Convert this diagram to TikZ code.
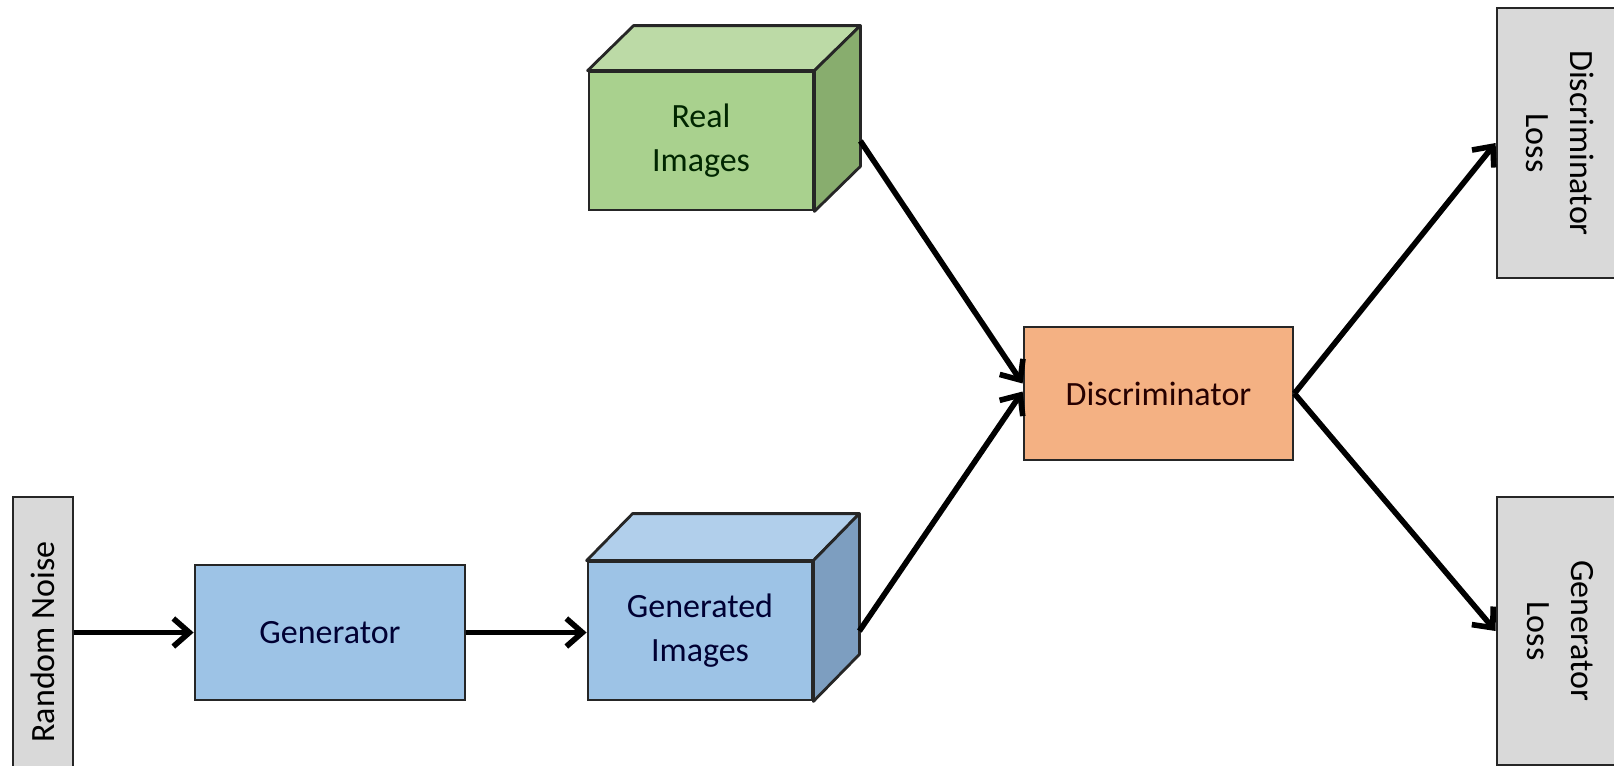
\documentclass[tikz,border=0pt]{standalone}
\usepackage{fontspec}
\setmainfont{Carlito}
\usetikzlibrary{arrows.meta,calc}

\definecolor{realfront}{HTML}{A9D18E}
\definecolor{realtop}{HTML}{BCDAA6}
\definecolor{realside}{HTML}{88AD6E}
\definecolor{genfront}{HTML}{9DC3E6}
\definecolor{gentop}{HTML}{B1CFEB}
\definecolor{genside}{HTML}{7D9EC0}
\definecolor{discfill}{HTML}{F4B183}
\definecolor{lossfill}{HTML}{D9D9D9}

\tikzset{
  block/.style={draw=black!85, line width=1.4pt, align=center, inner sep=0pt,
    font=\fontsize{17}{22}\selectfont},
  face/.style={draw=black!85, line width=1.4pt, line join=round},
  flow/.style={line width=2.8pt, -{Straight Barb[length=8pt,width=14pt]}},
}

\begin{document}
\begin{tikzpicture}[x=0.5pt,y=-0.5pt]
  \useasboundingbox (0,0) rectangle (1614,766);
  \fill[white] (0,0) rectangle (1614,766);

  % input and generator
  \node[block, fill=lossfill, rotate=90, minimum width=145pt, minimum height=30pt] (noise) at (43,642) {Random Noise};
  \node[block, fill=genfront, text=black!80!blue, minimum width=135pt, minimum height=67.5pt] (generator) at (330,632.5) {Generator};

  % image stacks
  \node[block, fill=realfront, text=black!85!green, minimum width=112pt, minimum height=69pt] (real) at (701,141) {Real\\Images};
  \filldraw[face, fill=realtop] (real.north west) -- ++(46,-45) -- ($(real.north east)+(46,-45)$) -- (real.north east) -- cycle;
  \filldraw[face, fill=realside] (real.north east) -- ++(46,-45) -- ($(real.south east)+(46,-45)$) -- (real.south east) -- cycle;

  \node[block, fill=genfront, text=black!80!blue, minimum width=112pt, minimum height=69pt] (gen) at (700,631) {Generated\\Images};
  \filldraw[face, fill=gentop] (gen.north west) -- ++(46,-47) -- ($(gen.north east)+(46,-47)$) -- (gen.north east) -- cycle;
  \filldraw[face, fill=genside] (gen.north east) -- ++(46,-47) -- ($(gen.south east)+(46,-47)$) -- (gen.south east) -- cycle;

  % discriminator and losses
  \node[block, fill=discfill, text=black!85!red, minimum width=134.5pt, minimum height=66.5pt] (disc) at (1158.5,393.5) {Discriminator};
  \node[block, fill=lossfill, rotate=-90, minimum width=135pt, minimum height=63pt] (dloss) at (1560,143) {Discriminator\\Loss};
  \node[block, fill=lossfill, rotate=-90, minimum width=134pt, minimum height=63pt] (gloss) at (1560,631) {Generator\\Loss};

  \coordinate (realedge) at ($(real.east)+(46,0)$);
  \coordinate (genedge) at ($(gen.east)+(46,0)$);

  \draw[flow] (noise.south |- generator.west) -- (generator.west);
  \draw[flow] (generator.east) -- (gen.west |- generator.east);
  \draw[flow] (realedge) -- ($(disc.west)+(0,-10)$);
  \draw[flow] (genedge) -- ($(disc.west)+(0,-2)$);
  \draw[flow] (disc.east) -- (dloss.south);
  \draw[flow] (disc.east) -- (gloss.south);
\end{tikzpicture}
\end{document}
